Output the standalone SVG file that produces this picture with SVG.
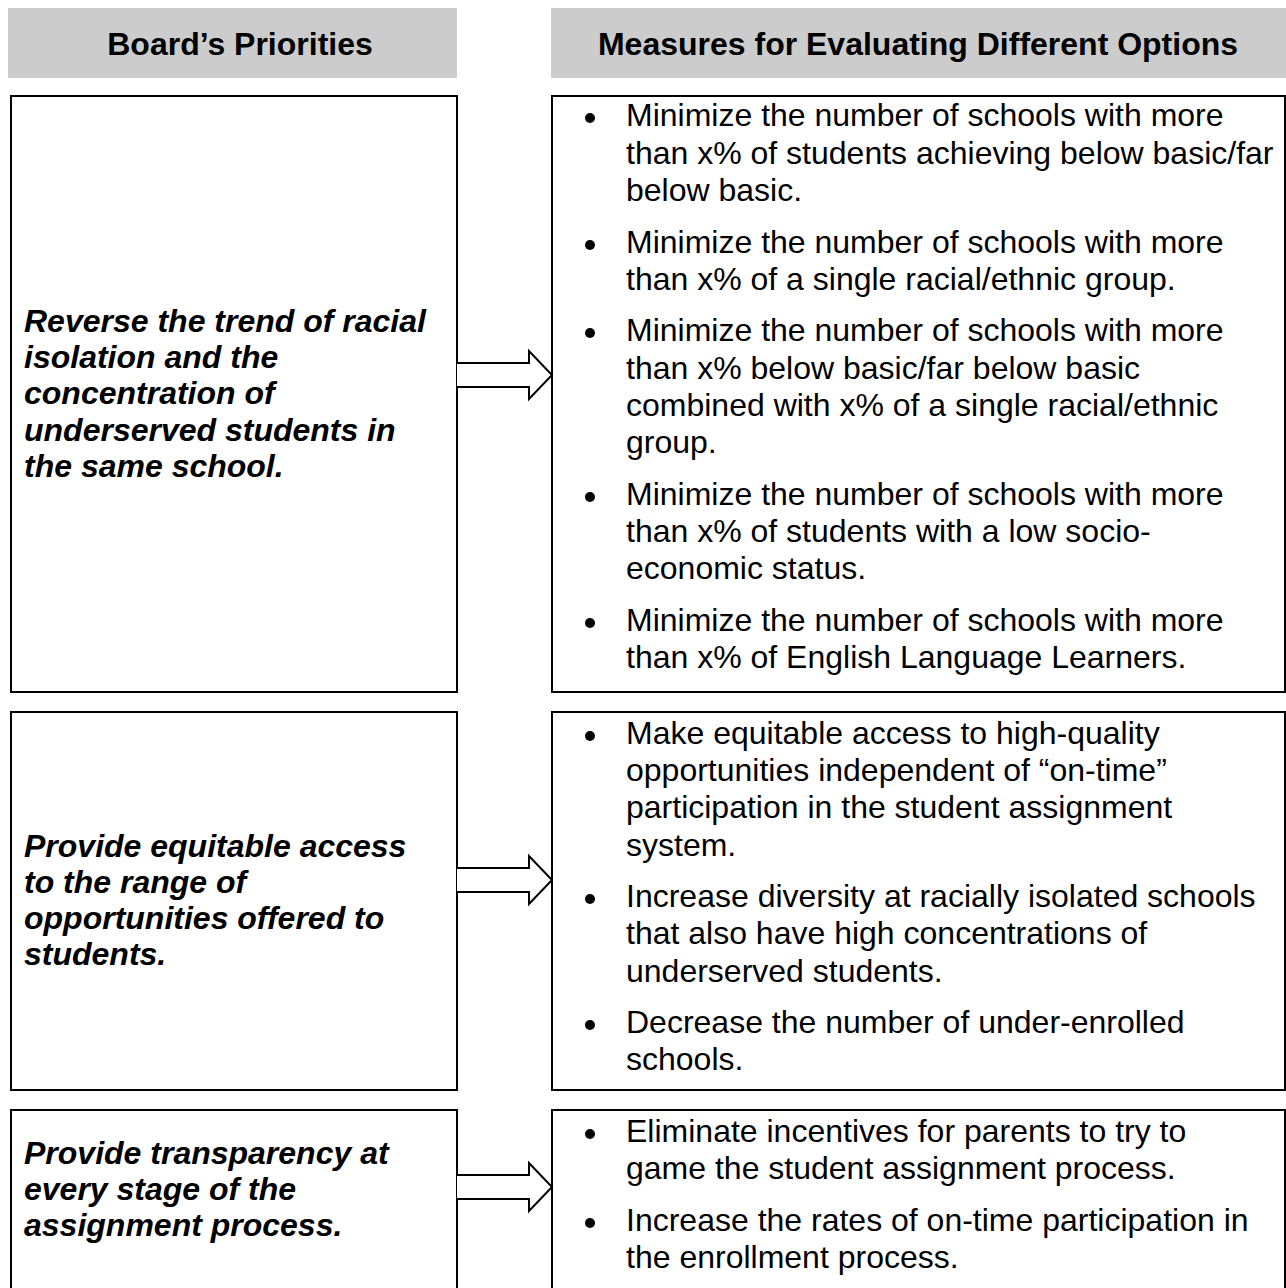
<svg xmlns="http://www.w3.org/2000/svg" width="1286" height="1288" viewBox="0 0 1286 1288">
<style>
.hdr{fill:#cccccc;stroke:none}
.ht{font-family:"Liberation Sans",Arial,sans-serif;font-weight:bold;font-size:32px;fill:#000;text-anchor:middle}
.box{fill:#fff;stroke:#000;stroke-width:2}
.pt{font-family:"Liberation Sans",Arial,sans-serif;font-weight:bold;font-style:italic;font-size:32px;fill:#000}
.mt{font-family:"Liberation Sans",Arial,sans-serif;font-size:32px;fill:#000}
.arr{fill:#fff;stroke:#000;stroke-width:2;stroke-linejoin:miter}
.bul{fill:#000}
</style>
<rect width="1286" height="1288" fill="#fff"/>
<g id="header-left"><rect class="hdr" x="8" y="8" width="449" height="70"/><text class="ht" x="240" y="55">Board’s Priorities</text></g>
<g id="header-right"><rect class="hdr" x="551" y="8" width="735" height="70"/><text class="ht" x="918" y="55">Measures for Evaluating Different Options</text></g>

<g id="priority-1">
<rect class="box" x="11" y="96" width="446" height="596"/>
<text class="pt" x="24" y="332">Reverse the trend of racial</text>
<text class="pt" x="24" y="368">isolation and the</text>
<text class="pt" x="24" y="404">concentration of</text>
<text class="pt" x="24" y="441">underserved students in</text>
<text class="pt" x="24" y="477">the same school.</text>
</g>
<g id="measures-1">
<rect class="box" x="552" y="96" width="733" height="596"/>
<circle class="bul" cx="590" cy="118" r="5"/>
<text class="mt" x="626" y="126">Minimize the number of schools with more</text>
<text class="mt" x="626" y="164">than x% of students achieving below basic/far</text>
<text class="mt" x="626" y="201">below basic.</text>
<circle class="bul" cx="590" cy="245" r="5"/>
<text class="mt" x="626" y="253">Minimize the number of schools with more</text>
<text class="mt" x="626" y="290">than x% of a single racial/ethnic group.</text>
<circle class="bul" cx="590" cy="333" r="5"/>
<text class="mt" x="626" y="341">Minimize the number of schools with more</text>
<text class="mt" x="626" y="379">than x% below basic/far below basic</text>
<text class="mt" x="626" y="416">combined with x% of a single racial/ethnic</text>
<text class="mt" x="626" y="453">group.</text>
<circle class="bul" cx="590" cy="497" r="5"/>
<text class="mt" x="626" y="505">Minimize the number of schools with more</text>
<text class="mt" x="626" y="542">than x% of students with a low socio-</text>
<text class="mt" x="626" y="579">economic status.</text>
<circle class="bul" cx="590" cy="623" r="5"/>
<text class="mt" x="626" y="631">Minimize the number of schools with more</text>
<text class="mt" x="626" y="668">than x% of English Language Learners.</text>
</g>

<g id="priority-2">
<rect class="box" x="11" y="712" width="446" height="378"/>
<text class="pt" x="24" y="857">Provide equitable access</text>
<text class="pt" x="24" y="893">to the range of</text>
<text class="pt" x="24" y="929">opportunities offered to</text>
<text class="pt" x="24" y="965">students.</text>
</g>
<g id="measures-2">
<rect class="box" x="552" y="712" width="733" height="378"/>
<circle class="bul" cx="590" cy="736" r="5"/>
<text class="mt" x="626" y="744">Make equitable access to high-quality</text>
<text class="mt" x="626" y="781">opportunities independent of “on-time”</text>
<text class="mt" x="626" y="818">participation in the student assignment</text>
<text class="mt" x="626" y="856">system.</text>
<circle class="bul" cx="590" cy="899" r="5"/>
<text class="mt" x="626" y="907">Increase diversity at racially isolated schools</text>
<text class="mt" x="626" y="944">that also have high concentrations of</text>
<text class="mt" x="626" y="982">underserved students.</text>
<circle class="bul" cx="590" cy="1025" r="5"/>
<text class="mt" x="626" y="1033">Decrease the number of under-enrolled</text>
<text class="mt" x="626" y="1070">schools.</text>
</g>

<g id="priority-3">
<rect class="box" x="11" y="1110" width="446" height="200"/>
<text class="pt" x="24" y="1164">Provide transparency at</text>
<text class="pt" x="24" y="1200">every stage of the</text>
<text class="pt" x="24" y="1236">assignment process.</text>
</g>
<g id="measures-3">
<rect class="box" x="552" y="1110" width="733" height="200"/>
<circle class="bul" cx="590" cy="1134" r="5"/>
<text class="mt" x="626" y="1142">Eliminate incentives for parents to try to</text>
<text class="mt" x="626" y="1179">game the student assignment process.</text>
<circle class="bul" cx="590" cy="1223" r="5"/>
<text class="mt" x="626" y="1231">Increase the rates of on-time participation in</text>
<text class="mt" x="626" y="1268">the enrollment process.</text>
</g>

<g id="connectors">
<polyline class="arr" points="457,363 529,363 529,351 552,375 529,399 529,387 457,387"/>
<polyline class="arr" points="457,868 529,868 529,856 552,880 529,904 529,892 457,892"/>
<polyline class="arr" points="457,1175 529,1175 529,1163 552,1187 529,1211 529,1199 457,1199"/>
</g>
</svg>
